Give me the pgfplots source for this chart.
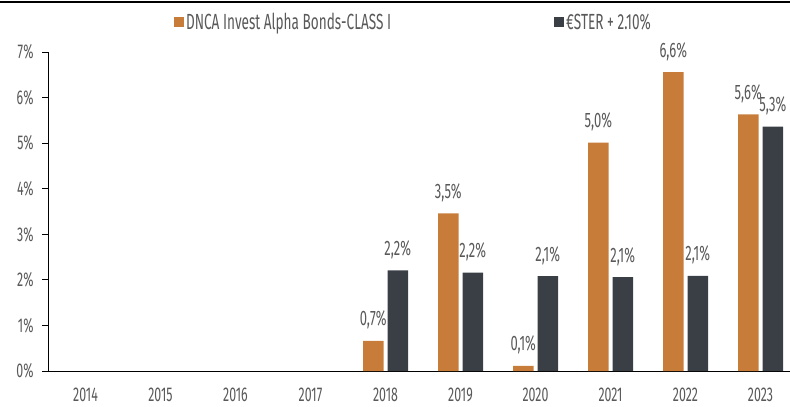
\documentclass[border=0pt]{standalone}
\usepackage{pgfplots}
\pgfplotsset{compat=1.18}
\usepackage{fontspec}
\setmainfont{Fira Sans}[FakeStretch=0.62]
\definecolor{orng}{RGB}{199,124,58}
\definecolor{dark}{RGB}{58,63,69}
\definecolor{txt}{RGB}{89,89,89}
\begin{document}
\begin{tikzpicture}[x=1bp,y=1bp]
\begin{axis}[
  at={(48bp,35bp)}, anchor=south west,
  scale only axis, width=750bp, height=319bp,
  xmin=-0.5, xmax=9.5, ymin=0, ymax=7,
  axis lines=left, axis line style={-, black, line width=1bp},
  ybar, bar width=20.5bp,
  xtick={0,1,...,9},
  xticklabels={2014,2015,2016,2017,2018,2019,2020,2021,2022,2023},
  ytick={0,1,...,7},
  yticklabels={0\%,1\%,2\%,3\%,4\%,5\%,6\%,7\%},
  tick align=outside, major tick length=6bp,
  x tick style={draw=none},
  y tick style={black, line width=1bp},
  ticklabel style={font=\fontsize{20}{22}\selectfont, text=txt},
  yticklabel style={xshift=-5bp},
  xticklabel style={yshift=-7bp},
  legend columns=2,
  legend style={at={(0.4873,1.094)}, anchor=center, draw=none, fill=none,
    font=\fontsize{22}{24}\selectfont, text=txt,
    nodes={inner xsep=2.5bp},
    /tikz/every even column/.append style={column sep=160bp}},
  nodes near coords={\pgfplotspointmeta\%},
  every node near coord/.append style={font=\fontsize{21}{23}\selectfont, text=txt, yshift=8bp},
  point meta=explicit symbolic,
]
\addplot[fill=orng, draw=none, bar shift=-12.25bp,
  legend image code/.code={\fill[orng] (0bp,-5bp) rectangle (10bp,5bp);}]
  table[x=x, y=y, meta=l] {
x y l
4 0.66 0,7
5 3.46 3,5
6 0.11 0,1
7 5.01 5,0
8 6.56 6,6
9 5.63 5,6
};
\addlegendentry{DNCA Invest Alpha Bonds-CLASS I}
\addplot[fill=dark, draw=none, bar shift=12.25bp,
  legend image code/.code={\fill[dark] (0bp,-5bp) rectangle (10bp,5bp);}]
  table[x=x, y=y, meta=l] {
x y l
4 2.21 2,2
5 2.16 2,2
6 2.08 2,1
7 2.06 2,1
8 2.09 2,1
9 5.36 5,3
};
\addlegendentry{€STER + 2.10\%}
\end{axis}
\draw[line width=1.5bp] (0,404) -- (790,404);
\pgfresetboundingbox
\path[use as bounding box] (0,0) rectangle (790,406);
\end{tikzpicture}
\end{document}
